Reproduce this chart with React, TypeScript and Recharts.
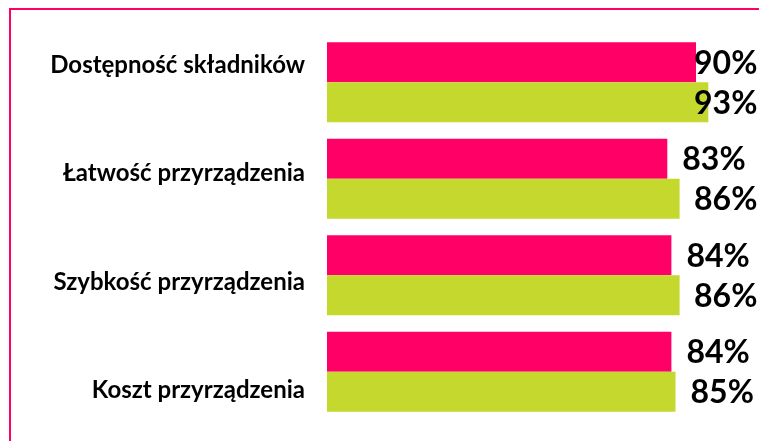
import { BarChart, Bar, XAxis, YAxis, LabelList } from "recharts";

const categories = [
  "Dostępność składników",
  "Łatwość przyrządzenia",
  "Szybkość przyrządzenia",
  "Koszt przyrządzenia",
];
const seriesPink = [90, 83, 84, 84];
const seriesGreen = [93, 86, 86, 85];

const PINK = "#FF0066";
const GREEN = "#C4D82E";
const FONT = "Lato, 'Noto Sans', sans-serif";

const data = categories.map((name, i) => ({
  name,
  pink: seriesPink[i],
  green: seriesGreen[i],
}));

const ValueLabel = (props: any) => {
  const { x, y, width, height, value } = props;
  const tx = Math.min(x + width + 15, 683);
  return (
    <text
      x={tx}
      y={y + height / 2}
      dy="0.36em"
      fontFamily={FONT}
      fontWeight="bold"
      fontSize={32}
      fill="#000"
    >
      {value}%
    </text>
  );
};

export default function App() {
  return (
    <div
      style={{
        position: "fixed",
        left: 9,
        top: 8,
        width: 750,
        height: 433,
        overflow: "hidden",
        borderTop: `2px solid ${PINK}`,
        borderLeft: `2px solid ${PINK}`,
      }}
    >
      <BarChart
        width={748}
        height={435}
        data={data}
        layout="vertical"
        barGap={0}
        barCategoryGap={8.3}
        margin={{ top: 0, right: 22, bottom: 1, left: 0 }}
      >
        <XAxis type="number" domain={[0, 100]} hide />
        <YAxis
          yAxisId="bars"
          type="category"
          dataKey="name"
          hide
          width={0}
          padding={{ top: 24, bottom: 24 }}
        />
        <YAxis
          yAxisId="labels"
          type="category"
          dataKey="name"
          width={316}
          axisLine={false}
          tickLine={false}
          tickSize={0}
          tickMargin={22}
          tick={{
            fill: "#000",
            fontFamily: FONT,
            fontWeight: "bold",
            fontSize: 24,
          }}
        />
        <Bar yAxisId="bars" dataKey="pink" fill={PINK} isAnimationActive={false}>
          <LabelList dataKey="pink" content={ValueLabel} />
        </Bar>
        <Bar yAxisId="bars" dataKey="green" fill={GREEN} isAnimationActive={false}>
          <LabelList dataKey="green" content={ValueLabel} />
        </Bar>
      </BarChart>
    </div>
  );
}
